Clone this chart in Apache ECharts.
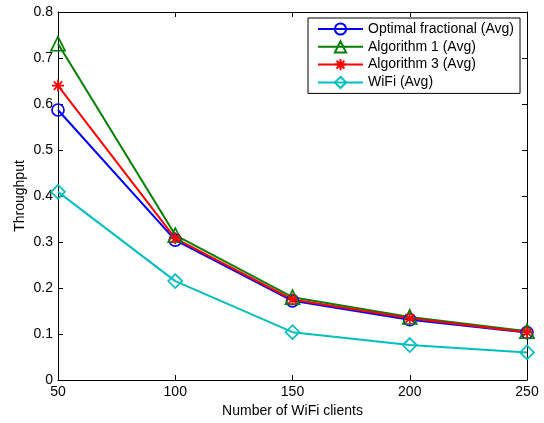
<!DOCTYPE html>
<html>
<head>
<meta charset="utf-8">
<script src="https://cdn.jsdelivr.net/npm/echarts@6/dist/echarts.min.js"></script>
<style>
  html, body { margin: 0; padding: 0; background: #fff; }
  #chart { width: 544px; height: 423px; }
</style>
</head>
<body>
<div id="chart"></div>
<script>
// Number of WiFi clients on the x axis
const clients = [50, 100, 150, 200, 250];

// Average throughput per method
const optimalFractional = [0.587, 0.304, 0.172, 0.131, 0.103];
const algorithm1 = [0.731, 0.315, 0.180, 0.137, 0.106];
const algorithm3 = [0.640, 0.308, 0.175, 0.134, 0.104];
const wifi = [0.409, 0.215, 0.104, 0.076, 0.060];

const seriesNames = ['Optimal fractional (Avg)', 'Algorithm 1 (Avg)', 'Algorithm 3 (Avg)', 'WiFi (Avg)'];

const FONT = '"Liberation Sans", Arial, sans-serif';
const FS = 14;
const asterisk = 'path://M0,-10L0,10M-10,0L10,0M-7,-7L7,7M-7,7L7,-7';

function pairs(values) {
  return clients.map((c, i) => [c, values[i]]);
}

function makeSeries(name, values, color, symbol, size) {
  return {
    name: name,
    type: 'line',
    data: pairs(values),
    symbol: symbol,
    symbolSize: size,
    showSymbol: true,
    lineStyle: { color: color, width: 2 },
    itemStyle: { color: 'rgba(255,255,255,0)', borderColor: color, borderWidth: 1.7 },
    emphasis: { disabled: true },
    animation: false
  };
}

const chart = echarts.init(document.getElementById('chart'), null, { renderer: 'canvas' });

const tickStyle = { show: true, inside: true, length: 5, lineStyle: { color: '#000', width: 1 } };

chart.setOption({
  backgroundColor: '#fff',
  animation: false,
  grid: { left: 58, right: 17, top: 12, bottom: 43, containLabel: false },
  legend: {
    orient: 'vertical',
    left: 308,
    top: 18,
    data: seriesNames,
    itemWidth: 45,
    itemHeight: 14,
    itemGap: 3.8,
    padding: [4, 6, 4, 9],
    borderColor: '#000',
    borderWidth: 1,
    backgroundColor: '#fff',
    textStyle: { fontFamily: FONT, fontSize: FS, color: '#000' }
  },
  xAxis: [
    {
      type: 'value', min: 50, max: 250, interval: 50,
      name: 'Number of WiFi clients', nameLocation: 'middle', nameGap: 24,
      nameTextStyle: { fontFamily: FONT, fontSize: FS, color: '#000' },
      axisLine: { show: true, onZero: false, lineStyle: { color: '#000', width: 1 } },
      axisTick: tickStyle,
      axisLabel: { fontFamily: FONT, fontSize: FS, color: '#000', margin: 5 },
      splitLine: { show: false }
    },
    {
      type: 'value', min: 50, max: 250, interval: 50, position: 'top',
      axisLine: { show: true, onZero: false, lineStyle: { color: '#000', width: 1 } },
      axisTick: tickStyle,
      axisLabel: { show: false },
      splitLine: { show: false }
    }
  ],
  yAxis: [
    {
      type: 'value', min: 0, max: 0.8, interval: 0.1,
      name: 'Throughput', nameLocation: 'middle', nameGap: 31, nameRotate: 90,
      nameMoveOverlap: false,
      nameTextStyle: { fontFamily: FONT, fontSize: FS, color: '#000' },
      axisLine: { show: true, onZero: false, lineStyle: { color: '#000', width: 1 } },
      axisTick: tickStyle,
      axisLabel: { fontFamily: FONT, fontSize: FS, color: '#000', margin: 5,
        formatter: v => (Math.round(v * 10) / 10).toString() },
      splitLine: { show: false }
    },
    {
      type: 'value', min: 0, max: 0.8, interval: 0.1, position: 'right',
      axisLine: { show: true, onZero: false, lineStyle: { color: '#000', width: 1 } },
      axisTick: tickStyle,
      axisLabel: { show: false },
      splitLine: { show: false }
    }
  ],
  series: [
    makeSeries(seriesNames[0], optimalFractional, '#0000ff', 'circle', 12),
    makeSeries(seriesNames[1], algorithm1, '#008000', 'triangle', 14),
    makeSeries(seriesNames[2], algorithm3, '#ff0000', asterisk, 12),
    makeSeries(seriesNames[3], wifi, '#00bfbf', 'diamond', 14)
  ]
});
</script>
</body>
</html>
